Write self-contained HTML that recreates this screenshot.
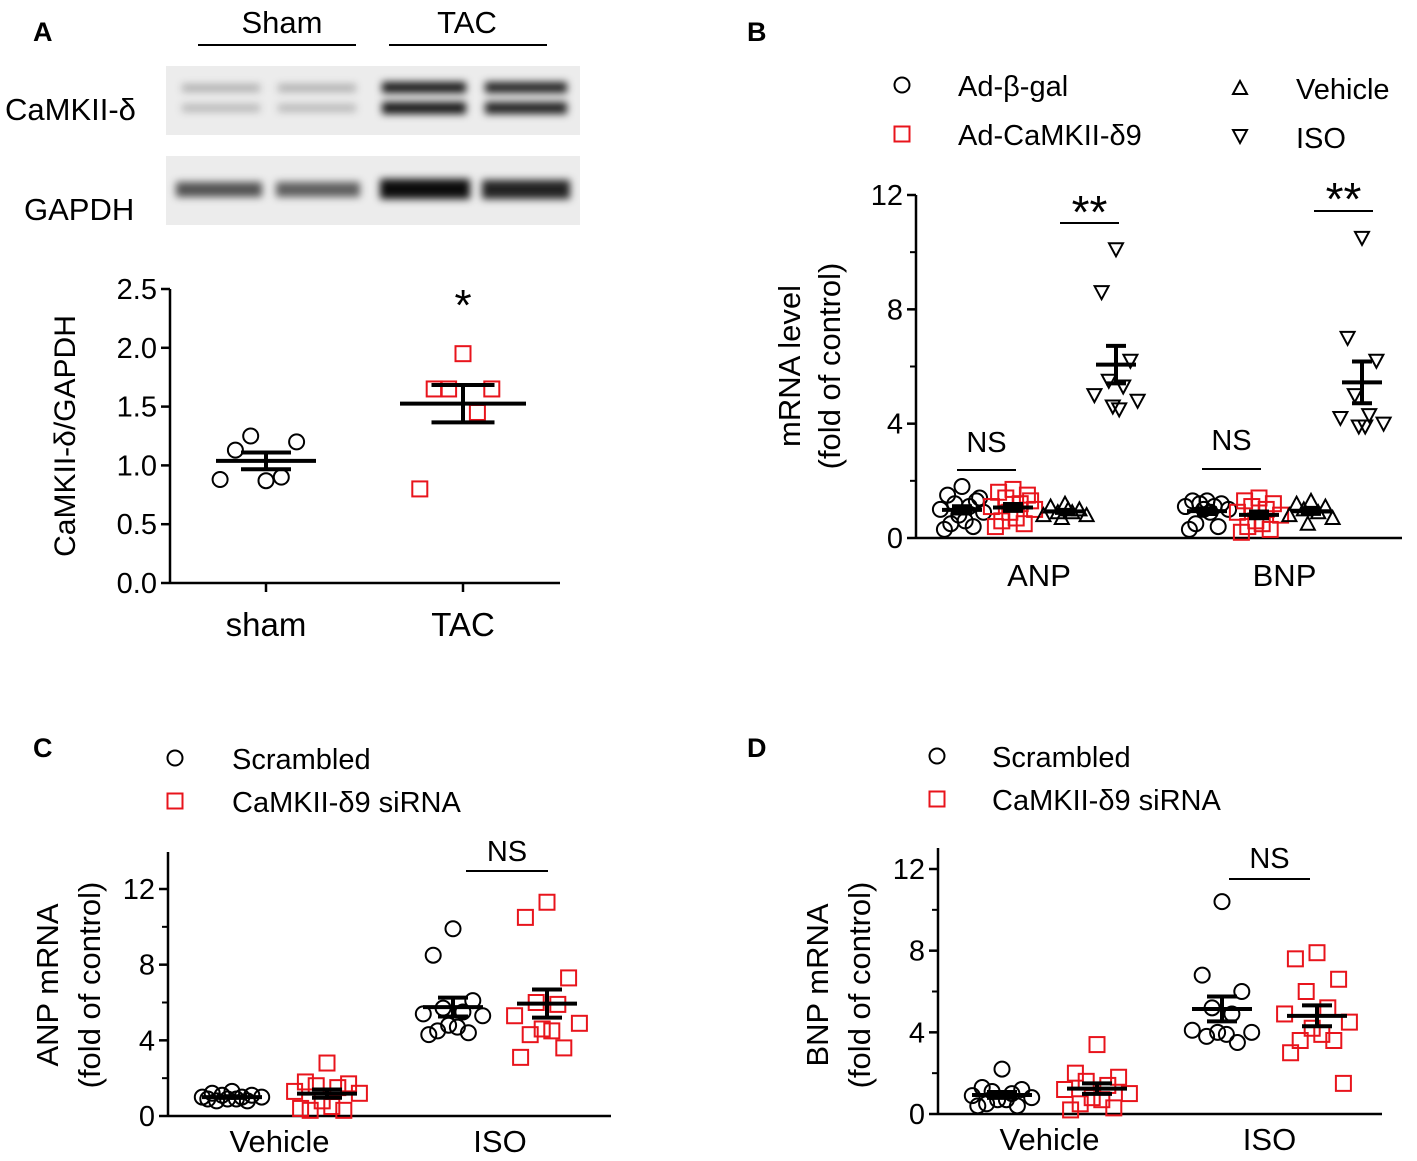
<!DOCTYPE html>
<html><head><meta charset="utf-8"><style>
html,body{margin:0;padding:0;background:#fff;}
svg{display:block;font-family:"Liberation Sans",Arial,sans-serif;}
</style></head><body>
<svg id="fig" width="1417" height="1161" viewBox="0 0 1417 1161" xmlns="http://www.w3.org/2000/svg">
<defs>
<filter id="blur" x="-20%" y="-100%" width="140%" height="300%"><feGaussianBlur stdDeviation="4"/></filter>
</defs>
<text x="33" y="41" font-size="27" font-weight="bold">A</text>
<text x="747" y="41" font-size="27" font-weight="bold">B</text>
<text x="33" y="757" font-size="27" font-weight="bold">C</text>
<text x="747" y="757" font-size="27" font-weight="bold">D</text>
<g>
<text x="282" y="33" font-size="31" text-anchor="middle">Sham</text>
<text x="467" y="33" font-size="31" text-anchor="middle">TAC</text>
<line x1="198" y1="45" x2="356" y2="45" stroke="#000" stroke-width="2"/>
<line x1="389" y1="45" x2="547" y2="45" stroke="#000" stroke-width="2"/>
<text x="5" y="120" font-size="31">CaMKII-δ</text>
<text x="24" y="220" font-size="31">GAPDH</text>
<rect x="166" y="66" width="414" height="69" fill="#ececec"/>
<rect x="166" y="156" width="414" height="69" fill="#ececec"/>
<g filter="url(#blur)">
<rect x="182" y="84" width="78" height="8" fill="#000" opacity="0.25"/>
<rect x="278" y="84" width="78" height="8" fill="#000" opacity="0.25"/>
<rect x="182" y="104" width="78" height="8" fill="#000" opacity="0.22"/>
<rect x="278" y="104" width="78" height="8" fill="#000" opacity="0.22"/>
<rect x="382" y="82" width="84" height="11" fill="#000" opacity="0.9"/>
<rect x="485" y="82" width="82" height="11" fill="#000" opacity="0.85"/>
<rect x="382" y="102" width="84" height="12" fill="#000" opacity="0.9"/>
<rect x="485" y="102" width="82" height="12" fill="#000" opacity="0.85"/>
<rect x="176" y="182" width="86" height="15" fill="#000" opacity="0.65"/>
<rect x="276" y="182" width="84" height="15" fill="#000" opacity="0.6"/>
<rect x="380" y="179" width="90" height="20" fill="#000" opacity="0.95"/>
<rect x="482" y="180" width="88" height="19" fill="#000" opacity="0.85"/>
</g>
</g>
<g id="plots"></g>
</svg>
<script>
// ---- Panel A data ----
const aCategories = ["sham", "TAC"];
const aSham = [0.87, 1.13, 1.2, 1.25, 0.9, 0.88];
const aTAC = [1.95, 1.65, 1.65, 1.65, 1.45, 0.8];
const aTicks = ["0.0","0.5","1.0","1.5","2.0","2.5"];
// ---- Panel B data ----
const bCategories = ["ANP", "BNP"];
const bAnpBgal = [1.8,1.5,1.3,1.2,1.1,1.0,0.9,0.8,0.6,0.5,0.4,0.3,1.4];
const bAnpCam = [1.7,1.6,1.5,1.4,1.2,1.1,1.0,0.9,0.7,0.6,0.5,0.4,1.3];
const bAnpVeh = [1.2,1.1,1.0,0.9,0.9,0.8,0.8,0.7,1.0];
const bAnpIso = [10.1,8.6,6.2,5.5,5.3,5.0,4.8,4.6,4.5];
const bBnpBgal = [1.3,1.3,1.2,1.2,1.1,1.1,1.0,1.0,0.9,0.5,0.4,0.3];
const bBnpCam = [1.4,1.3,1.2,1.1,1.0,0.9,0.8,0.6,0.5,0.4,0.3,0.2];
const bBnpVeh = [1.3,1.2,1.1,1.0,0.9,0.8,0.7,0.5];
const bBnpIso = [10.5,7.0,6.2,5.0,4.3,4.2,4.0,3.9,3.9];
const bTicks = ["0","4","8","12"];
// ---- Panel C data ----
const cCategories = ["Vehicle", "ISO"];
const cVehScr = [1.3,1.2,1.1,1.1,1.0,1.0,1.0,0.9,0.9,0.8,0.8,0.9];
const cVehSi = [2.8,1.8,1.7,1.6,1.5,1.3,1.2,0.8,0.5,0.3,0.3,0.4];
const cIsoScr = [9.9,8.5,6.1,5.7,5.5,5.4,5.3,4.8,4.7,4.5,4.4,4.3];
const cIsoSi = [11.3,10.5,7.3,6.0,5.9,5.3,4.9,4.6,4.5,4.3,3.6,3.1];
const cTicks = ["0","4","8","12"];
// ---- Panel D data ----
const dCategories = ["Vehicle", "ISO"];
const dVehScr = [2.2,1.3,1.2,1.1,1.0,0.9,0.8,0.7,0.7,0.5,0.4,0.4];
const dVehSi = [3.4,2.0,1.8,1.6,1.4,1.2,1.0,0.8,0.7,0.5,0.3,0.2];
const dIsoScr = [10.4,6.8,6.0,5.2,4.9,4.1,4.0,4.0,3.9,3.8,3.5];
const dIsoSi = [7.9,7.6,6.6,6.0,5.2,4.9,4.5,4.2,3.9,3.6,3.6,3.0,1.5];
const dTicks = ["0","4","8","12"];

const NS = "http://www.w3.org/2000/svg";
const root = document.getElementById('plots');
function mk(tag, attrs, parent){ const e=document.createElementNS(NS,tag); for(const k in attrs) e.setAttribute(k,attrs[k]); (parent||root).appendChild(e); return e; }
function txt(s,x,y,size,anchor,parent){ const t=mk('text',{x:x,y:y,'font-size':size,'text-anchor':anchor||'middle'},parent); t.textContent=s; return t; }
const jit=[0,-18,18,-9,9,-27,27,-4,4,-14,14,-22,22];
function marker(shape,cx,cy,g){
  let e;
  const red='#e8141c';
  if(shape==='circle') e=mk('circle',{cx:cx,cy:cy,r:7.5,fill:'none',stroke:'#000','stroke-width':2},g);
  else if(shape==='square') e=mk('rect',{x:cx-7.5,y:cy-7.5,width:15,height:15,fill:'none',stroke:red,'stroke-width':2},g);
  else if(shape==='tri') e=mk('polygon',{points:`${cx-7},${cy+6} ${cx+7},${cy+6} ${cx},${cy-7}`,fill:'none',stroke:'#000','stroke-width':2},g);
  else e=mk('polygon',{points:`${cx-7},${cy-6} ${cx+7},${cy-6} ${cx},${cy+7}`,fill:'none',stroke:'#000','stroke-width':2},g);
  return e;
}
function series(vals, shape, cx, ys, halfW, name, scale){
  const g=mk('g',{});
  
  
  const s=scale||1;
  vals.forEach((v,i)=>{
    const m=marker(shape,cx+jit[i%jit.length]*s,ys(v),g);
    
    
  });
  const n=vals.length, mean=vals.reduce((a,b)=>a+b,0)/n;
  const sd=Math.sqrt(vals.reduce((a,b)=>a+(b-mean)*(b-mean),0)/(n-1)), sem=sd/Math.sqrt(n);
  mk('line',{x1:cx-halfW,x2:cx+halfW,y1:ys(mean),y2:ys(mean),stroke:'#000','stroke-width':4},g);
  mk('line',{x1:cx,x2:cx,y1:ys(mean-sem),y2:ys(mean+sem),stroke:'#000','stroke-width':4},g);
  mk('line',{x1:cx-halfW*0.5,x2:cx+halfW*0.5,y1:ys(mean-sem),y2:ys(mean-sem),stroke:'#000','stroke-width':4},g);
  mk('line',{x1:cx-halfW*0.5,x2:cx+halfW*0.5,y1:ys(mean+sem),y2:ys(mean+sem),stroke:'#000','stroke-width':4},g);
}
function axes(ax, x0, x1, y0, yTop, ys, ticks, tickVals, minor, name){
  const g=mk('g',{});
  
  
  mk('line',{x1:ax,x2:ax,y1:y0+1,y2:yTop,stroke:'#000','stroke-width':2.5},g);
  mk('line',{x1:x0,x2:x1,y1:y0,y2:y0,stroke:'#000','stroke-width':2.5},g);
  ticks.forEach((t,i)=>{ const y=ys(tickVals[i]); mk('line',{x1:ax-9,x2:ax,y1:y,y2:y,stroke:'#000','stroke-width':2.5},g); txt(t,ax-13,y+10,29,'end',g); });
  (minor||[]).forEach(v=>{ const y=ys(v); mk('line',{x1:ax-6,x2:ax,y1:y,y2:y,stroke:'#000','stroke-width':2},g); });
}
function sig(label,x1,x2,y,ty,size){ mk('line',{x1:x1,x2:x2,y1:y,y2:y,stroke:'#000','stroke-width':2}); const t=txt(label,(x1+x2)/2,ty,size||29,'middle');   }

// ===== Panel A =====
(function(){
  const y0=583, yTop=289, ys=v=>y0-(v/2.5)*(y0-yTop);
  axes(170,170,560,y0,yTop,ys,aTicks,[0,0.5,1,1.5,2,2.5],[], 'panel-a-axes');
  const xs=[266,463];
  xs.forEach((x,i)=>{ mk('line',{x1:x,x2:x,y1:y0,y2:y0+9,stroke:'#000','stroke-width':2.5}); const t=txt(aCategories[i],x,636,33);   });
  series(aSham,'circle',xs[0],ys,50,'sham-series',1.7);
  series(aTAC,'square',xs[1],ys,63,'tac-series',1.6);
  const t=txt('CaMKII-δ/GAPDH',0,0,30,'middle'); t.setAttribute('transform','translate(75,436) rotate(-90)');
   
  const st=txt('*',463,320,44);  
})();

// ===== Panel B =====
(function(){
  const y0=538, yTop=195, ys=v=>y0-(v/12)*(y0-yTop);
  axes(916,916,1402,y0,yTop,ys,bTicks,[0,4,8,12],[2,6,10],'panel-b-axes');
  const cx=[[962,1013,1065,1116],[1207,1259,1311,1362]];
  bCategories.forEach((c,i)=>{ const t=txt(c,(cx[i][0]+cx[i][3])/2,586,31);   });
  series(bAnpBgal,'circle',cx[0][0],ys,20,'anp-bgal',0.8);
  series(bAnpCam,'square',cx[0][1],ys,20,'anp-camkii',0.8);
  series(bAnpVeh,'tri',cx[0][2],ys,20,'anp-vehicle',0.8);
  series(bAnpIso,'inv',cx[0][3],ys,20,'anp-iso',0.8);
  series(bBnpBgal,'circle',cx[1][0],ys,20,'bnp-bgal',0.8);
  series(bBnpCam,'square',cx[1][1],ys,20,'bnp-camkii',0.8);
  series(bBnpVeh,'tri',cx[1][2],ys,20,'bnp-vehicle',0.8);
  series(bBnpIso,'inv',cx[1][3],ys,20,'bnp-iso',0.8);
  sig('NS',957,1016,470,452,29); sig('NS',1202,1261,469,450,29);
  sig('**',1060,1119,223,228,46); sig('**',1314,1373,211,215,46);
  const t1=txt('mRNA level',0,0,31); t1.setAttribute('transform','translate(800,366) rotate(-90)');  
  const t2=txt('(fold of control)',0,0,31); t2.setAttribute('transform','translate(840,366) rotate(-90)');
  const L=[['circle',902,85,'Ad-β-gal',958,96],['square',902,134,'Ad-CaMKII-δ9',958,145],['tri',1240,88,'Vehicle',1296,99],['inv',1240,136,'ISO',1296,148]];
  L.forEach(l=>{ const g=mk('g',{});   marker(l[0],l[1],l[2],g); txt(l[3],l[4],l[5],29,'start',g); });
})();

// ===== Panel C =====
(function(){
  const y0=1116, ys=v=>y0-(v/12)*(y0-889);
  axes(168,168,611,y0,852,ys,cTicks,[0,4,8,12],[2,6,10],'panel-c-axes');
  const cx=[[232,327],[453,547]];
  cCategories.forEach((c,i)=>{ const t=txt(c,(cx[i][0]+cx[i][1])/2,1152,31);   });
  series(cVehScr,'circle',cx[0][0],ys,30,'c-vehicle-scrambled',1.1);
  series(cVehSi,'square',cx[0][1],ys,30,'c-vehicle-sirna',1.2);
  series(cIsoScr,'circle',cx[1][0],ys,30,'c-iso-scrambled',1.1);
  series(cIsoSi,'square',cx[1][1],ys,30,'c-iso-sirna',1.2);
  sig('NS',466,548,871,861,29);
  const t1=txt('ANP mRNA',0,0,31); t1.setAttribute('transform','translate(58,985) rotate(-90)');  
  const t2=txt('(fold of control)',0,0,31); t2.setAttribute('transform','translate(100,985) rotate(-90)');
  [['circle',175,758,'Scrambled',232,769],['square',175,801,'CaMKII-δ9 siRNA',232,812]].forEach(l=>{ const g=mk('g',{});   marker(l[0],l[1],l[2],g); txt(l[3],l[4],l[5],29,'start',g); });
})();

// ===== Panel D =====
(function(){
  const y0=1114, ys=v=>y0-(v/12)*(y0-869);
  axes(938,938,1382,y0,848,ys,dTicks,[0,4,8,12],[2,6,10],'panel-d-axes');
  const cx=[[1002,1097],[1222,1317]];
  dCategories.forEach((c,i)=>{ const t=txt(c,(cx[i][0]+cx[i][1])/2,1150,31);   });
  series(dVehScr,'circle',cx[0][0],ys,30,'d-vehicle-scrambled',1.1);
  series(dVehSi,'square',cx[0][1],ys,30,'d-vehicle-sirna',1.2);
  series(dIsoScr,'circle',cx[1][0],ys,30,'d-iso-scrambled',1.1);
  series(dIsoSi,'square',cx[1][1],ys,30,'d-iso-sirna',1.2);
  sig('NS',1229,1310,879,868,29);
  const t1=txt('BNP mRNA',0,0,31); t1.setAttribute('transform','translate(828,985) rotate(-90)');  
  const t2=txt('(fold of control)',0,0,31); t2.setAttribute('transform','translate(870,985) rotate(-90)');
  [['circle',937,756,'Scrambled',992,767],['square',937,799,'CaMKII-δ9 siRNA',992,810]].forEach(l=>{ const g=mk('g',{});   marker(l[0],l[1],l[2],g); txt(l[3],l[4],l[5],29,'start',g); });
})();
</script>
</body></html>
